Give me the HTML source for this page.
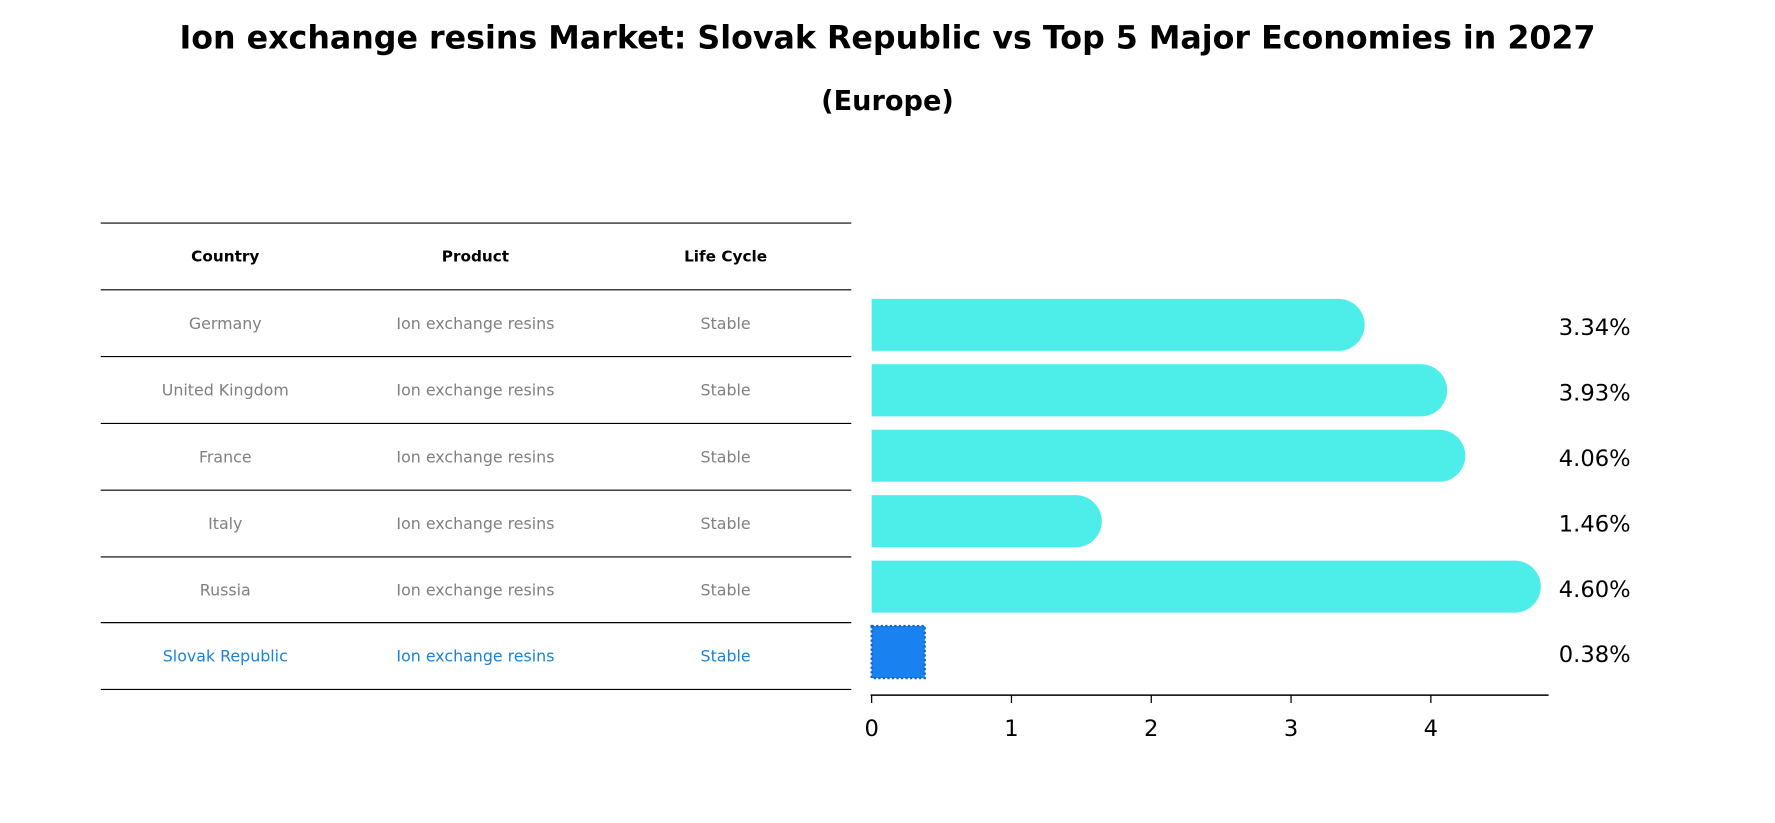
<!DOCTYPE html>
<html><head><meta charset="utf-8"><style>
body{margin:0;background:#fff;font-family:"DejaVu Sans","Liberation Sans",sans-serif;}
svg{display:block}
svg text{font-family:"DejaVu Sans","Liberation Sans",sans-serif;}
</style></head><body>
<svg id="chart" width="1775" height="823" viewBox="0 0 1568 727" preserveAspectRatio="none" xmlns="http://www.w3.org/2000/svg">
<text x="784" y="43" text-anchor="middle" font-size="28" font-weight="bold">Ion exchange resins Market: Slovak Republic vs Top 5 Major Economies in 2027</text>
<text x="784" y="97" text-anchor="middle" font-size="24" font-weight="bold">(Europe)</text>
<g id="table"></g>
<g id="bars"></g>
<g id="axis"></g>
</svg>
<script>
const countries=["Germany","United Kingdom","France","Italy","Russia","Slovak Republic"];
const products=["Ion exchange resins","Ion exchange resins","Ion exchange resins","Ion exchange resins","Ion exchange resins","Ion exchange resins"];
const lifeCycles=["Stable","Stable","Stable","Stable","Stable","Stable"];
const values=[3.34,3.93,4.06,1.46,4.60,0.38];
const valueLabels=["3.34%","3.93%","4.06%","1.46%","4.60%","0.38%"];
const ticks=[0,1,2,3,4];

const NS="http://www.w3.org/2000/svg";
function mk(tag,attrs,parent,text){const e=document.createElementNS(NS,tag);for(const k in attrs)e.setAttribute(k,attrs[k]);if(text!==undefined)e.textContent=text;parent.appendChild(e);return e;}
const x=v=>770+v*123.5;
const rowY=i=>287+i*57.8;
const table=document.getElementById('table'),bars=document.getElementById('bars'),axis=document.getElementById('axis');
const lineYs=[197,256,315,374,433,492,550,609];
lineYs.forEach((ly,i)=>{const l=mk('line',{x1:89,x2:752,y1:ly,y2:ly,stroke:'#000','stroke-width':1},table);

});
const colX=[199,420,641];
["Country","Product","Life Cycle"].forEach((h,j)=>{const t=mk('text',{x:colX[j],y:231,'text-anchor':'middle','font-size':13.5,'font-weight':'bold'},table,h);

});
countries.forEach((c,i)=>{
 const last=i===countries.length-1;const col=last?'#1a82d8':'#808080';
 const cy=(lineYs[i+1]+lineYs[i+2])/2+5;
 [c,products[i],lifeCycles[i]].forEach((s,j)=>{const t=mk('text',{x:colX[j],y:cy,'text-anchor':'middle','font-size':14,fill:col},table,s);
 
 });
 const y0=rowY(i)-23,h=46;
 if(last){
  const r=mk('rect',{x:x(0),y:y0,width:x(values[i])-x(0),height:h,fill:'#1a82f0',stroke:'#1565c0','stroke-width':2,'stroke-dasharray':'2,2'},bars);
  
  
 } else {
  const xe=x(values[i]),rr=23;
  const p=mk('path',{d:`M${x(0)},${y0} H${xe} A${rr},${rr} 0 0 1 ${xe},${y0+h} H${x(0)} Z`,fill:'#4deeea'},bars);
  
  
 }
 const vl=mk('text',{x:1377,y:rowY(i)+9,'font-size':20},bars,valueLabels[i]);
 
 
});
const al=mk('line',{x1:769,x2:1368,y1:614,y2:614,stroke:'#000','stroke-width':1.3},axis);


ticks.forEach(t=>{
 const tl=mk('line',{x1:x(t),x2:x(t),y1:614,y2:621,stroke:'#000','stroke-width':1.1},axis);
 
 
 const tx=mk('text',{x:x(t),y:650,'text-anchor':'middle','font-size':20},axis,String(t));
 
 
});
</script>
</body></html>
